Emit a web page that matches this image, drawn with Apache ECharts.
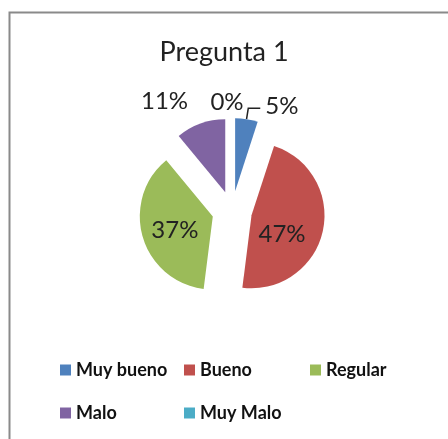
<!DOCTYPE html>
<html>
<head>
<meta charset="utf-8">
<script src="https://cdn.jsdelivr.net/npm/echarts@6/dist/echarts.min.js"></script>
<style>
  html, body { margin: 0; padding: 0; background: #fff; }
  #chart { width: 448px; height: 439px; }
</style>
</head>
<body>
<div id="chart"></div>
<script>
const categories = ['Muy bueno', 'Bueno', 'Regular', 'Malo', 'Muy Malo'];
const values = [5, 47, 37, 11, 0];
const colors = ['#4F81BD', '#C0504D', '#9BBB59', '#8064A2', '#4BACC6'];
const insideLabels = ['Bueno', 'Regular'];
// legend is laid out in three columns, filled row by row
const legendColumns = [['Muy bueno', 'Malo'], ['Bueno', 'Muy Malo'], ['Regular']];
const legendLeft = [55, 179, 305];

const font = 'Lato, "Open Sans", sans-serif';
const chart = echarts.init(document.getElementById('chart'));

const pieData = categories.map((name, i) => {
  const item = { name: name, value: values[i], selected: true, itemStyle: { color: colors[i] } };
  if (insideLabels.includes(name)) {
    item.label = { position: 'inside' };
  } else if (name === 'Muy bueno') {
    item.labelLine = { show: true, length: 11, length2: 12 };
  } else if (name === 'Malo') {
    item.labelLine = { show: false, length: 22, length2: 0 };
  } else {
    item.labelLine = { show: false, length: 14, length2: 0 };
  }
  return item;
});

const legends = legendColumns.map((col, i) => ({
  data: col,
  orient: 'vertical',
  left: legendLeft[i],
  top: 356,
  icon: 'rect',
  itemWidth: 11,
  itemHeight: 11,
  itemGap: 25,
  selectedMode: false,
  textStyle: { fontFamily: font, fontSize: 18, fontWeight: 'bold', color: '#111' }
}));

chart.setOption({
  animation: false,
  title: {
    text: 'Pregunta 1',
    left: 'center',
    top: 34,
    textStyle: { fontFamily: font, fontSize: 27, fontWeight: 'normal', color: '#222' }
  },
  graphic: [{
    type: 'rect',
    shape: { x: 9.5, y: 12.5, width: 600, height: 600 },
    style: { fill: 'none', stroke: '#8a8a8a', lineWidth: 2 }
  }],
  legend: legends,
  series: [{
    type: 'pie',
    center: [232, 211],
    radius: 73,
    selectedMode: 'multiple',
    selectedOffset: 20,
    avoidLabelOverlap: false,
    startAngle: 90,
    clockwise: true,
    data: pieData,
    label: {
      formatter: '{d}%',
      fontFamily: font,
      fontSize: 24,
      color: '#222'
    },
    labelLine: {
      lineStyle: { color: '#222', width: 1.5 },
      smooth: false
    },
    labelLayout: function (params) {
      if (params.dataIndex === 4) {
        return { align: 'center', dx: 0, dy: -2 };
      }
      if (params.dataIndex === 1) {
        return { dx: -8, dy: 10 };
      }
      if (params.dataIndex === 2) {
        return { dy: 3 };
      }
      return { dy: -2 };
    },
    emphasis: { disabled: true },
    select: { itemStyle: {} }
  }]
});
</script>
</body>
</html>
